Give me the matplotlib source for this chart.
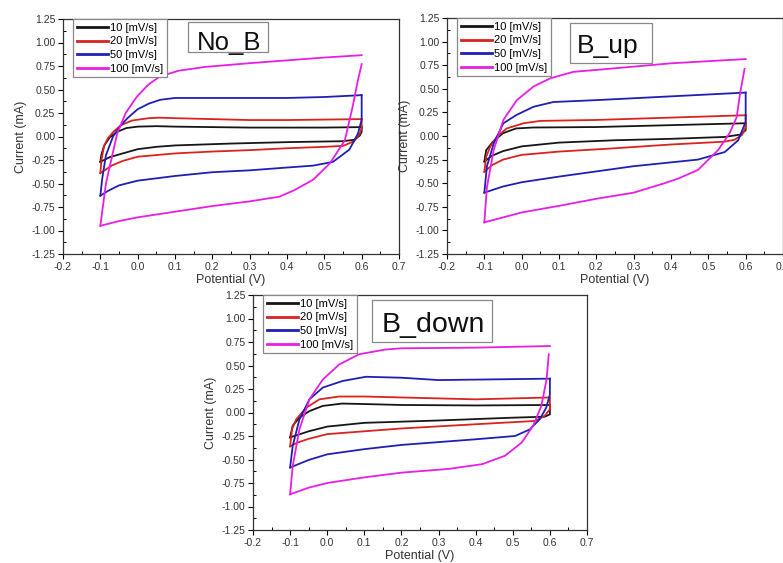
import numpy as np
import matplotlib
matplotlib.use("Agg")
import matplotlib.pyplot as plt
from matplotlib.patches import Rectangle
from matplotlib.ticker import MultipleLocator

plt.rcParams['font.family'] = ['Liberation Sans', 'DejaVu Sans']

# scan rates and colours
rates = ["10 [mV/s]", "20 [mV/s]", "50 [mV/s]", "100 [mV/s]"]
colors = ["#161616", "#d8231f", "#1f1fb4", "#e61ee6"]
titles = ["No_B", "B_up", "B_down"]

# --- No_B : forward (anodic) and reverse (cathodic) branches, (V, mA)
nob_10_fwd = [(-0.1, -0.27), (-0.097, -0.19), (-0.09, -0.1), (-0.075, -0.01), (-0.055, 0.05),
              (-0.03, 0.09), (0.0, 0.105), (0.05, 0.11), (0.1, 0.105), (0.2, 0.10), (0.3, 0.095),
              (0.4, 0.095), (0.5, 0.095), (0.6, 0.10)]
nob_10_rev = [(0.6, 0.10), (0.6, 0.05), (0.595, 0.01), (0.58, -0.035), (0.55, -0.05), (0.4, -0.06),
              (0.25, -0.075), (0.1, -0.095), (0.05, -0.11), (0.0, -0.135), (-0.04, -0.18),
              (-0.075, -0.22), (-0.1, -0.27)]
nob_20_fwd = [(-0.1, -0.39), (-0.097, -0.25), (-0.09, -0.1), (-0.08, -0.02), (-0.065, 0.05),
              (-0.045, 0.12), (-0.015, 0.17), (0.03, 0.195), (0.06, 0.20), (0.1, 0.195), (0.2, 0.185),
              (0.3, 0.175), (0.4, 0.175), (0.5, 0.18), (0.6, 0.185)]
nob_20_rev = [(0.6, 0.185), (0.6, 0.09), (0.595, 0.03), (0.58, -0.05), (0.55, -0.10), (0.5, -0.11),
              (0.4, -0.125), (0.3, -0.145), (0.2, -0.16), (0.1, -0.18), (0.0, -0.215), (-0.04, -0.26),
              (-0.07, -0.31), (-0.1, -0.39)]
nob_50_fwd = [(-0.1, -0.63), (-0.095, -0.45), (-0.085, -0.2), (-0.066, 0.0), (-0.045, 0.12),
              (-0.026, 0.2), (0.0, 0.29), (0.03, 0.35), (0.06, 0.39), (0.1, 0.41), (0.2, 0.41),
              (0.3, 0.41), (0.4, 0.41), (0.5, 0.42), (0.6, 0.44)]
nob_50_rev = [(0.6, 0.44), (0.6, 0.18), (0.59, 0.03), (0.567, -0.14), (0.523, -0.27), (0.47, -0.31),
              (0.4, -0.33), (0.3, -0.36), (0.2, -0.38), (0.1, -0.42), (0.0, -0.47), (-0.05, -0.52),
              (-0.08, -0.58), (-0.1, -0.63)]
nob_100_fwd = [(-0.1, -0.95), (-0.085, -0.5), (-0.055, 0.03), (-0.032, 0.25), (-0.003, 0.42),
               (0.028, 0.55), (0.06, 0.64), (0.11, 0.70), (0.18, 0.74), (0.3, 0.78), (0.4, 0.81),
               (0.5, 0.84), (0.6, 0.865)]
nob_100_rev = [(0.6, 0.77), (0.59, 0.6), (0.576, 0.32), (0.555, -0.04), (0.515, -0.285), (0.47, -0.46),
               (0.42, -0.57), (0.38, -0.64), (0.3, -0.69), (0.2, -0.74), (0.1, -0.80), (0.0, -0.86),
               (-0.05, -0.9), (-0.1, -0.95)]

# --- B_up
bup_10_fwd = [(-0.1, -0.27), (-0.095, -0.15), (-0.077, -0.06), (-0.05, 0.03), (-0.015, 0.08),
              (0.03, 0.09), (0.2, 0.095), (0.4, 0.115), (0.6, 0.135)]
bup_10_rev = [(0.6, 0.135), (0.6, 0.06), (0.585, 0.015), (0.544, -0.01), (0.4, -0.03), (0.25, -0.045),
              (0.1, -0.07), (0.0, -0.11), (-0.05, -0.16), (-0.08, -0.21), (-0.1, -0.27)]
bup_20_fwd = [(-0.1, -0.38), (-0.095, -0.22), (-0.084, -0.11), (-0.066, -0.005), (-0.04, 0.08),
              (0.005, 0.135), (0.05, 0.16), (0.2, 0.17), (0.4, 0.195), (0.6, 0.22)]
bup_20_rev = [(0.6, 0.22), (0.6, 0.09), (0.59, 0.01), (0.57, -0.04), (0.544, -0.06), (0.4, -0.09),
              (0.25, -0.13), (0.1, -0.165), (0.0, -0.2), (-0.05, -0.25), (-0.08, -0.31), (-0.1, -0.38)]
bup_50_fwd = [(-0.1, -0.6), (-0.093, -0.32), (-0.075, -0.08), (-0.049, 0.135), (-0.013, 0.225),
              (0.032, 0.31), (0.085, 0.36), (0.2, 0.38), (0.4, 0.42), (0.6, 0.46)]
bup_50_rev = [(0.6, 0.46), (0.6, 0.15), (0.58, -0.045), (0.544, -0.17), (0.472, -0.25), (0.3, -0.32),
              (0.1, -0.43), (0.0, -0.49), (-0.05, -0.535), (-0.1, -0.6)]
bup_100_fwd = [(-0.1, -0.915), (-0.093, -0.54), (-0.075, -0.15), (-0.049, 0.17), (-0.013, 0.38),
               (0.032, 0.525), (0.076, 0.61), (0.139, 0.68), (0.2, 0.70), (0.4, 0.77), (0.6, 0.815)]
bup_100_rev = [(0.597, 0.71), (0.585, 0.45), (0.576, 0.2), (0.557, 0.03), (0.526, -0.15), (0.472, -0.36),
               (0.42, -0.45), (0.383, -0.5), (0.3, -0.6), (0.2, -0.665), (0.1, -0.74), (0.0, -0.81),
               (-0.057, -0.87), (-0.1, -0.915)]

# --- B_down
bdn_10_fwd = [(-0.1, -0.265), (-0.093, -0.14), (-0.075, -0.055), (-0.048, 0.015), (-0.012, 0.07),
              (0.04, 0.095), (0.1, 0.09), (0.2, 0.08), (0.4, 0.075), (0.6, 0.08)]
bdn_10_rev = [(0.6, 0.08), (0.6, -0.02), (0.586, -0.045), (0.5, -0.055), (0.3, -0.085), (0.1, -0.11),
              (0.0, -0.15), (-0.05, -0.2), (-0.1, -0.265)]
bdn_20_fwd = [(-0.1, -0.36), (-0.095, -0.18), (-0.084, -0.075), (-0.057, 0.05), (-0.021, 0.14),
              (0.032, 0.17), (0.1, 0.17), (0.2, 0.16), (0.4, 0.14), (0.6, 0.16)]
bdn_20_rev = [(0.6, 0.16), (0.6, 0.035), (0.586, -0.035), (0.56, -0.09), (0.4, -0.125), (0.2, -0.17),
              (0.0, -0.23), (-0.05, -0.28), (-0.08, -0.32), (-0.1, -0.36)]
bdn_50_fwd = [(-0.1, -0.585), (-0.093, -0.355), (-0.075, -0.075), (-0.048, 0.14), (-0.012, 0.265),
              (0.041, 0.335), (0.104, 0.38), (0.2, 0.37), (0.3, 0.345), (0.4, 0.35), (0.6, 0.36)]
bdn_50_rev = [(0.6, 0.36), (0.6, 0.19), (0.59, 0.05), (0.573, -0.07), (0.546, -0.18), (0.506, -0.25),
              (0.4, -0.285), (0.2, -0.345), (0.1, -0.39), (0.0, -0.445), (-0.05, -0.505), (-0.1, -0.585)]
bdn_100_fwd = [(-0.1, -0.87), (-0.093, -0.57), (-0.075, -0.18), (-0.048, 0.14), (-0.012, 0.35),
               (0.032, 0.51), (0.086, 0.62), (0.157, 0.67), (0.2, 0.683), (0.4, 0.69), (0.6, 0.707)]
bdn_100_rev = [(0.597, 0.62), (0.591, 0.35), (0.577, 0.07), (0.555, -0.14), (0.524, -0.32),
               (0.479, -0.46), (0.417, -0.55), (0.327, -0.6), (0.2, -0.64), (0.1, -0.69), (0.0, -0.75),
               (-0.05, -0.8), (-0.1, -0.87)]

panels = [
    [(nob_10_fwd, nob_10_rev), (nob_20_fwd, nob_20_rev), (nob_50_fwd, nob_50_rev), (nob_100_fwd, nob_100_rev)],
    [(bup_10_fwd, bup_10_rev), (bup_20_fwd, bup_20_rev), (bup_50_fwd, bup_50_rev), (bup_100_fwd, bup_100_rev)],
    [(bdn_10_fwd, bdn_10_rev), (bdn_20_fwd, bdn_20_rev), (bdn_50_fwd, bdn_50_rev), (bdn_100_fwd, bdn_100_rev)],
]

W, H = 783, 563
fig = plt.figure(figsize=(W / 100, H / 100), dpi=100)

# axes rectangles in pixels: left, top, right, bottom
rects = [(63, 19, 399, 254), (447, 18, 783, 254), (253, 295, 587, 530)]
# title boxes in pixels: left, top, right, bottom ; text left, baseline ; font size
boxes = [(188, 22, 268, 52), (570, 23, 652, 63), (372, 300, 492, 342)]
text_pos = [(197, 50), (577, 53), (382, 332)]
title_fs = [18.5, 19, 20.5]

for i, ((l, t, r, b), title, curves) in enumerate(zip(rects, titles, panels)):
    ax = fig.add_axes([l / W, (H - b) / H, (r - l) / W, (b - t) / H])
    for (fwd, rev), col, lab in zip(curves, colors, rates):
        f = np.array(fwd)
        v = np.array(rev)
        ax.plot(f[:, 0], f[:, 1], color=col, lw=1.3, label=lab, solid_joinstyle='round')
        ax.plot(v[:, 0], v[:, 1], color=col, lw=1.3, solid_joinstyle='round')

    ax.set_xlim(-0.2, 0.7)
    ax.set_ylim(-1.25, 1.25)
    ax.xaxis.set_major_locator(MultipleLocator(0.1))
    ax.xaxis.set_minor_locator(MultipleLocator(0.05))
    ax.yaxis.set_major_locator(MultipleLocator(0.25))
    ax.yaxis.set_minor_locator(MultipleLocator(0.125))
    ax.set_xticklabels([f"{x:.1f}" for x in ax.get_xticks()])
    ax.set_yticklabels([f"{y:.2f}" for y in ax.get_yticks()])
    ax.tick_params(which='major', direction='out', length=3.5, width=0.8,
                   labelsize=7.5, labelcolor='#333333', pad=2)
    ax.tick_params(which='minor', direction='in', length=2.5, width=0.7)
    for sp in ax.spines.values():
        sp.set_linewidth(0.9)
        sp.set_color('#333333')

    ax.set_xlabel("Potential (V)", fontsize=9, color='#333333', labelpad=2)
    ax.set_ylabel("Current (mA)", fontsize=9, color='#333333', labelpad=3)

    leg = ax.legend(loc='upper left', bbox_to_anchor=(0.03, 1.0), fontsize=8,
                    handlelength=2.8, handletextpad=0.2, labelspacing=0.32,
                    borderpad=0.35, borderaxespad=0.0, fancybox=False, framealpha=1)
    leg.get_frame().set_edgecolor('#888888')
    leg.get_frame().set_linewidth(0.9)
    for ln in leg.get_lines():
        ln.set_linewidth(2.0)

    # title box drawn as a rectangle, then the text inside
    bx0, by0, bx1, by1 = boxes[i]
    fx = lambda px: (px - l) / (r - l)
    fy = lambda py: (b - py) / (b - t)
    ax.add_patch(Rectangle((fx(bx0), fy(by1)), fx(bx1) - fx(bx0), fy(by0) - fy(by1),
                           transform=ax.transAxes, fc='white', ec='#888888', lw=0.9, zorder=4))
    tx, ty = text_pos[i]
    ax.text(fx(tx), fy(ty), title, transform=ax.transAxes, ha='left', va='baseline',
            fontsize=title_fs[i], color='#111111', zorder=5)

fig.savefig("out.png", dpi=100)
